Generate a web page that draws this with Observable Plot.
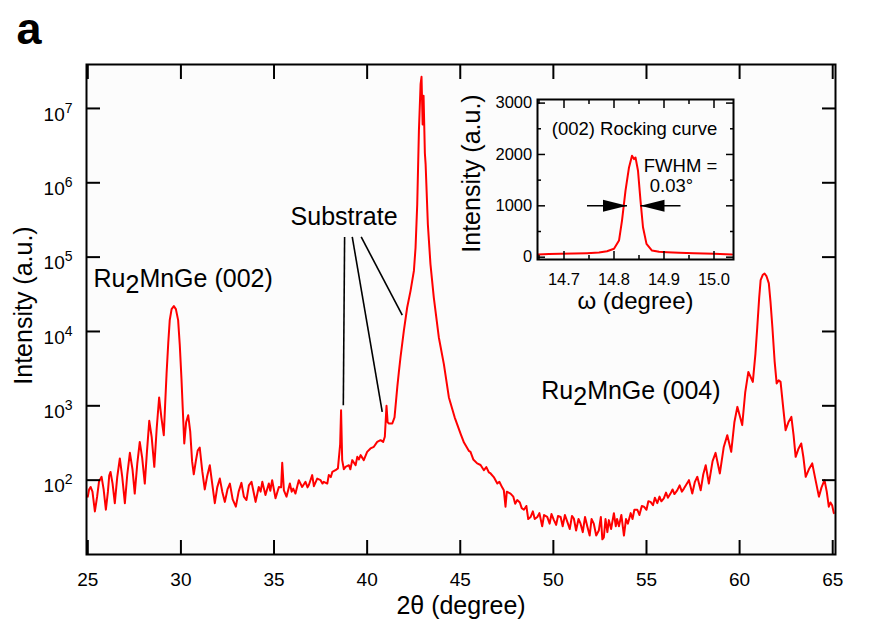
<!DOCTYPE html>
<html><head><meta charset="utf-8">
<script src="https://cdn.jsdelivr.net/npm/d3@7"></script>
<script src="https://cdn.jsdelivr.net/npm/@observablehq/plot@0.6"></script>
<style>
body{margin:0;background:#fff;}
#wrap{position:relative;width:884px;height:630px;}
#inset{position:absolute;left:460px;top:80px;}
</style></head><body><div id="wrap"><div id="main"></div><div id="inset"></div></div>
<script>
// ---- main XRD scan (2θ in degree, intensity in a.u.) ----
const twoTheta = [
25.00,25.07,25.15,25.25,25.38,25.50,25.60,25.74,25.85,25.97,26.08,26.15,26.22,26.33,26.45,26.58,26.72,26.85,26.99,27.12,
27.26,27.40,27.52,27.66,27.79,27.92,28.06,28.18,28.30,28.43,28.57,28.70,28.83,28.95,29.08,29.15,29.23,29.32,29.40,29.50,
29.62,29.73,29.85,29.94,30.03,30.10,30.18,30.28,30.39,30.50,30.60,30.69,30.80,30.90,31.01,31.15,31.28,31.40,31.55,31.68,
31.82,31.95,32.09,32.22,32.36,32.50,32.63,32.78,32.95,33.10,33.25,33.38,33.52,33.65,33.79,33.90,34.01,34.18,34.28,34.37,
34.54,34.72,34.80,34.90,35.08,35.26,35.38,35.44,35.53,35.67,35.85,35.95,36.03,36.15,36.33,36.51,36.69,36.80,36.87,37.05,
37.14,37.32,37.50,37.60,37.67,37.86,37.94,38.05,38.13,38.30,38.43,38.55,38.60,38.66,38.75,38.84,39.02,39.10,39.20,39.38,
39.47,39.56,39.65,39.82,40.00,40.18,40.36,40.54,40.72,40.86,40.95,41.04,41.10,41.17,41.35,41.47,41.62,41.70,41.79,41.97,
42.15,42.33,42.51,42.60,42.69,42.78,42.87,42.92,42.98,43.03,43.10,43.14,43.26,43.40,43.58,43.85,44.12,44.39,44.70,45.02,
45.20,45.46,45.55,45.70,45.91,46.09,46.27,46.40,46.54,46.63,46.80,46.99,47.10,47.25,47.34,47.43,47.50,47.70,47.85,47.95,
48.06,48.20,48.30,48.42,48.55,48.65,48.78,48.90,49.00,49.14,49.25,49.40,49.50,49.67,49.80,49.90,50.03,50.15,50.25,50.39,
50.50,50.62,50.75,50.88,51.00,51.10,51.22,51.35,51.46,51.58,51.70,51.82,51.95,52.05,52.17,52.30,52.44,52.55,52.63,52.71,
52.80,52.90,52.98,53.10,53.25,53.35,53.42,53.52,53.65,53.79,53.90,54.00,54.15,54.25,54.35,54.51,54.62,54.75,54.86,55.00,
55.10,55.22,55.35,55.45,55.58,55.70,55.80,55.93,56.05,56.15,56.29,56.40,56.50,56.65,56.78,56.90,57.01,57.15,57.28,57.46,
57.60,57.73,57.91,58.05,58.18,58.35,58.55,58.71,58.94,59.15,59.34,59.55,59.72,59.88,60.14,60.30,60.47,60.71,60.85,60.95,
61.05,61.13,61.25,61.34,61.45,61.57,61.66,61.76,61.88,61.99,62.10,62.20,62.35,62.47,62.62,62.78,62.90,63.01,63.15,63.31,
63.43,63.55,63.72,63.90,64.08,64.26,64.40,64.56,64.68,64.79,64.88,64.97,65.06
];
const intensity = [
60,75,81,70,38,60,95,111,75,40,70,115,129,90,49,110,196,110,49,120,
233,140,66,170,327,200,90,250,628,380,151,500,1295,700,403,1000,2720,7000,14200,20000,
21900,20000,14200,6500,2300,900,311,600,748,450,180,120,180,250,275,130,75,110,159,90,
49,80,105,70,51,75,90,55,44,70,92,60,54,85,95,70,51,81,70,95,
63,90,72,100,57,81,80,171,73,60,90,70,77,66,100,81,95,80,86,117,
83,105,100,90,95,90,117,110,129,136,144,300,874,186,140,151,159,140,186,159,
206,190,217,186,240,267,281,327,345,327,383,1000,600,578,578,700,1800,2800,4467,10180,
21000,35200,65300,134800,515000,4990000,21200000,26600000,6100000,14800000,2500000,1780000,277000,80400,28600,8300,3630,1295,700,420,
320,248,240,190,168,160,136,150,127,123,110,90,95,80,73,44,70,66,60,48,
54,50,42,40,45,30,32,38,30,32,36,24,34,32,26,35,29,25,33,32,
24,34,27.5,22,33,30.5,21,30,26,20,32,24,18,30,26,18,21,32,16,17,
30,20,29,22,36,24,30,24,34,18,30,26,36,30,40,40,34,45,44,40,
52,51,46,58,49,60,52,57,68,58,66,75,65,73,85,70,77,88,100,66,
95,111,73,120,159,90,180,233,123,280,403,240,600,968,550,1500,2860,2100,5000,11500,
28000,49000,58000,60200,55000,44300,25000,11500,4000,2000,2200,2100,900,470,600,710,400,206,260,312,
200,111,140,168,100,60,80,100,70,44,50,46,36
];
// ---- inset: (002) rocking curve ----
const omega = [14.648,14.67,14.693,14.72,14.746,14.77,14.786,14.80,14.81,14.816,14.823,14.83,14.836,14.84,14.843,14.848,14.853,14.858,14.865,14.876,14.89,14.906,14.93,14.96,14.98,15.0,15.036];
const rocking = [52,60,66,70,78,90,117,163,324,713,1295,1748,1975,1910,1942,1683,1100,583,260,130,105,97,88,78,72,66,52];

const xTicks = [25,30,35,40,45,50,55,60,65];
const yTicks = [1e2,1e3,1e4,1e5,1e6,1e7];
const insetXTicks = [14.7,14.8,14.9,15.0];
const insetXMinor = [14.65,14.75,14.85,14.95];
const insetYTicks = [0,1000,2000,3000];
const insetYMinor = [500,1500,2500];

// annotations (data coordinates)
const peakLabels = [
  {x: 25.306, y: 51000, text: "Ru2MnGe (002)"},
  {x: 49.35, y: 1560, text: "Ru2MnGe (004)"}
];
const substrateLabel = [{x: 38.76, y: 350000, text: "Substrate"}];
const substrateLeaders = [
  {x1: 38.79, y1: 187000, x2: 38.72, y2: 1021},
  {x1: 39.20, y1: 187000, x2: 40.81, y2: 830},
  {x1: 39.68, y1: 187000, x2: 41.885, y2: 16560}
];
const fwhmLines = [
  {x1: 14.746, x2: 14.826, y: 1000},
  {x1: 14.853, x2: 14.933, y: 1000}
];
const fwhmHeads = [
  {x: 14.826, y: 1000, rotate: 0},
  {x: 14.853, y: 1000, rotate: 180}
];
const insetTitle = [{x: 14.841, y: 2500, text: "(002) Rocking curve"}];
const fwhmTexts = [
  {x: 14.8596, y: 1767, text: "FWHM ="},
  {x: 14.8716, y: 1379, text: "0.03°"}
];

const FONT = "'Liberation Sans', Arial, Helvetica, sans-serif";
const mainData = twoTheta.map((x, i) => ({x, y: intensity[i]}));
const rockData = omega.map((x, i) => ({x, y: rocking[i]}));

const main = Plot.plot({
  width: 884, height: 630,
  marginLeft: 86, marginRight: 49, marginTop: 64, marginBottom: 76,
  style: {fontFamily: FONT, fontSize: "19px", background: "#fff", color: "#000", overflow: "visible"},
  x: {domain: [24.93, 65.15], label: null},
  y: {type: "log", domain: [10, 3.9e7], label: null},
  marks: [
    Plot.frame({fill: "#fcfcfc", stroke: "none"}),
    Plot.line(mainData, {x: "x", y: "y", stroke: "#ff0000", strokeWidth: 2}),
    Plot.link(substrateLeaders, {x1: "x1", y1: "y1", x2: "x2", y2: "y2", stroke: "#000", strokeWidth: 1.6}),
    Plot.text(peakLabels, {x: "x", y: "y", text: "text", textAnchor: "start", fontSize: 25}),
    Plot.text(substrateLabel, {x: "x", y: "y", text: "text", textAnchor: "middle", fontSize: 25}),
    // ticks (inward) on all four sides
    Plot.axisX({anchor: "bottom", ticks: xTicks, tickSize: -14, fill: "none", strokeWidth: 2, label: null}),
    Plot.axisX({anchor: "top", ticks: xTicks, tickSize: -14, fill: "none", strokeWidth: 2, label: null}),
    Plot.axisY({anchor: "left", ticks: yTicks, tickSize: -14, fill: "none", strokeWidth: 2, label: null}),
    Plot.axisY({anchor: "right", ticks: yTicks, tickSize: -14, fill: "none", strokeWidth: 2, label: null}),
    // tick labels
    Plot.axisX({anchor: "bottom", ticks: xTicks, tickSize: 0, tickPadding: 17.5, fontSize: 19, tickFormat: d => String(d), label: null}),
    Plot.axisY({anchor: "left", ticks: yTicks, tickSize: 0, tickPadding: 14, dy: 6, fontSize: 19, tickFormat: d => "10^" + Math.round(Math.log10(d)), label: null}),
    // axis titles
    Plot.text(["2θ (degree)"], {frameAnchor: "bottom", lineAnchor: "middle", textAnchor: "middle", dy: 51, fontSize: 25}),
    Plot.text(["Intensity (a.u.)"], {frameAnchor: "left", lineAnchor: "middle", textAnchor: "middle", rotate: -90, dx: -63, dy: -4, fontSize: 25}),
    Plot.text(["a"], {frameAnchor: "top-left", lineAnchor: "middle", textAnchor: "start", dx: -70, dy: -35, fontSize: 45, fontWeight: "bold"}),
    Plot.frame({stroke: "#000", strokeWidth: 2})
  ]
});

const arrowHead = {draw(context) { context.moveTo(0, 0); context.lineTo(-24, -6); context.lineTo(-24, 6); context.closePath(); }};

const inset = Plot.plot({
  width: 300, height: 240,
  marginLeft: 77, marginRight: 27, marginTop: 19, marginBottom: 61,
  style: {fontFamily: FONT, fontSize: "16px", background: "transparent", color: "#000", overflow: "visible"},
  x: {domain: [14.647, 15.039], label: null},
  y: {domain: [-45, 3070], label: null},
  marks: [
    Plot.frame({fill: "#fcfcfc", stroke: "none"}),
    Plot.line(rockData, {x: "x", y: "y", stroke: "#ff0000", strokeWidth: 2}),
    Plot.link(fwhmLines, {x1: "x1", x2: "x2", y1: "y", y2: "y", stroke: "#000", strokeWidth: 1.5}),
    Plot.dot(fwhmHeads, {x: "x", y: "y", rotate: "rotate", symbol: arrowHead, fill: "#000", stroke: "none"}),
    Plot.text(insetTitle, {x: "x", y: "y", text: "text", textAnchor: "middle", fontSize: 18.5}),
    Plot.text(fwhmTexts, {x: "x", y: "y", text: "text", textAnchor: "start", fontSize: 18.5}),
    Plot.axisX({anchor: "bottom", ticks: insetXTicks, tickSize: -8, fill: "none", strokeWidth: 1.5, label: null}),
    Plot.axisX({anchor: "top", ticks: insetXTicks, tickSize: -8, fill: "none", strokeWidth: 1.5, label: null}),
    Plot.axisX({anchor: "bottom", ticks: insetXMinor, tickSize: -4, fill: "none", strokeWidth: 1.5, label: null}),
    Plot.axisX({anchor: "top", ticks: insetXMinor, tickSize: -4, fill: "none", strokeWidth: 1.5, label: null}),
    Plot.axisY({anchor: "left", ticks: insetYTicks, tickSize: -8, fill: "none", strokeWidth: 1.5, label: null}),
    Plot.axisY({anchor: "right", ticks: insetYTicks, tickSize: -8, fill: "none", strokeWidth: 1.5, label: null}),
    Plot.axisY({anchor: "left", ticks: insetYMinor, tickSize: -4, fill: "none", strokeWidth: 1.5, label: null}),
    Plot.axisY({anchor: "right", ticks: insetYMinor, tickSize: -4, fill: "none", strokeWidth: 1.5, label: null}),
    Plot.axisX({anchor: "bottom", ticks: insetXTicks, tickSize: 0, tickPadding: 13.5, fontSize: 16.5, tickFormat: d => d.toFixed(1), label: null}),
    Plot.axisY({anchor: "left", ticks: insetYTicks, tickSize: 0, tickPadding: 5.3, fontSize: 16.5, tickFormat: d => String(d), label: null}),
    Plot.text(["ω (degree)"], {frameAnchor: "bottom", lineAnchor: "middle", textAnchor: "middle", dy: 41.5, fontSize: 24}),
    Plot.text(["Intensity (a.u.)"], {frameAnchor: "left", lineAnchor: "middle", textAnchor: "middle", rotate: -90, dx: -66, dy: -6, fontSize: 25}),
    Plot.frame({stroke: "#000", strokeWidth: 2})
  ]
});

document.getElementById("main").appendChild(main);
document.getElementById("inset").appendChild(inset);

// typographic touches: superscript exponents and subscript in chemical formula
const NS = "http://www.w3.org/2000/svg";
main.querySelectorAll("text").forEach(t => {
  const s = t.textContent;
  let m = s.match(/^10\^(\d+)$/);
  if (m) {
    t.textContent = "10";
    const sup = document.createElementNS(NS, "tspan");
    sup.setAttribute("dy", "-8");
    sup.setAttribute("font-size", "14");
    sup.textContent = m[1];
    t.appendChild(sup);
    return;
  }
  m = s.match(/^Ru2MnGe (.*)$/);
  if (m) {
    t.textContent = "Ru";
    const sub = document.createElementNS(NS, "tspan");
    sub.setAttribute("dy", "6");
    sub.textContent = "2";
    const rest = document.createElementNS(NS, "tspan");
    rest.setAttribute("dy", "-6");
    rest.textContent = "MnGe (" + m[1].replace(/[()]/g, "") + ")";
    t.appendChild(sub);
    t.appendChild(rest);
  }
});
</script></body></html>
